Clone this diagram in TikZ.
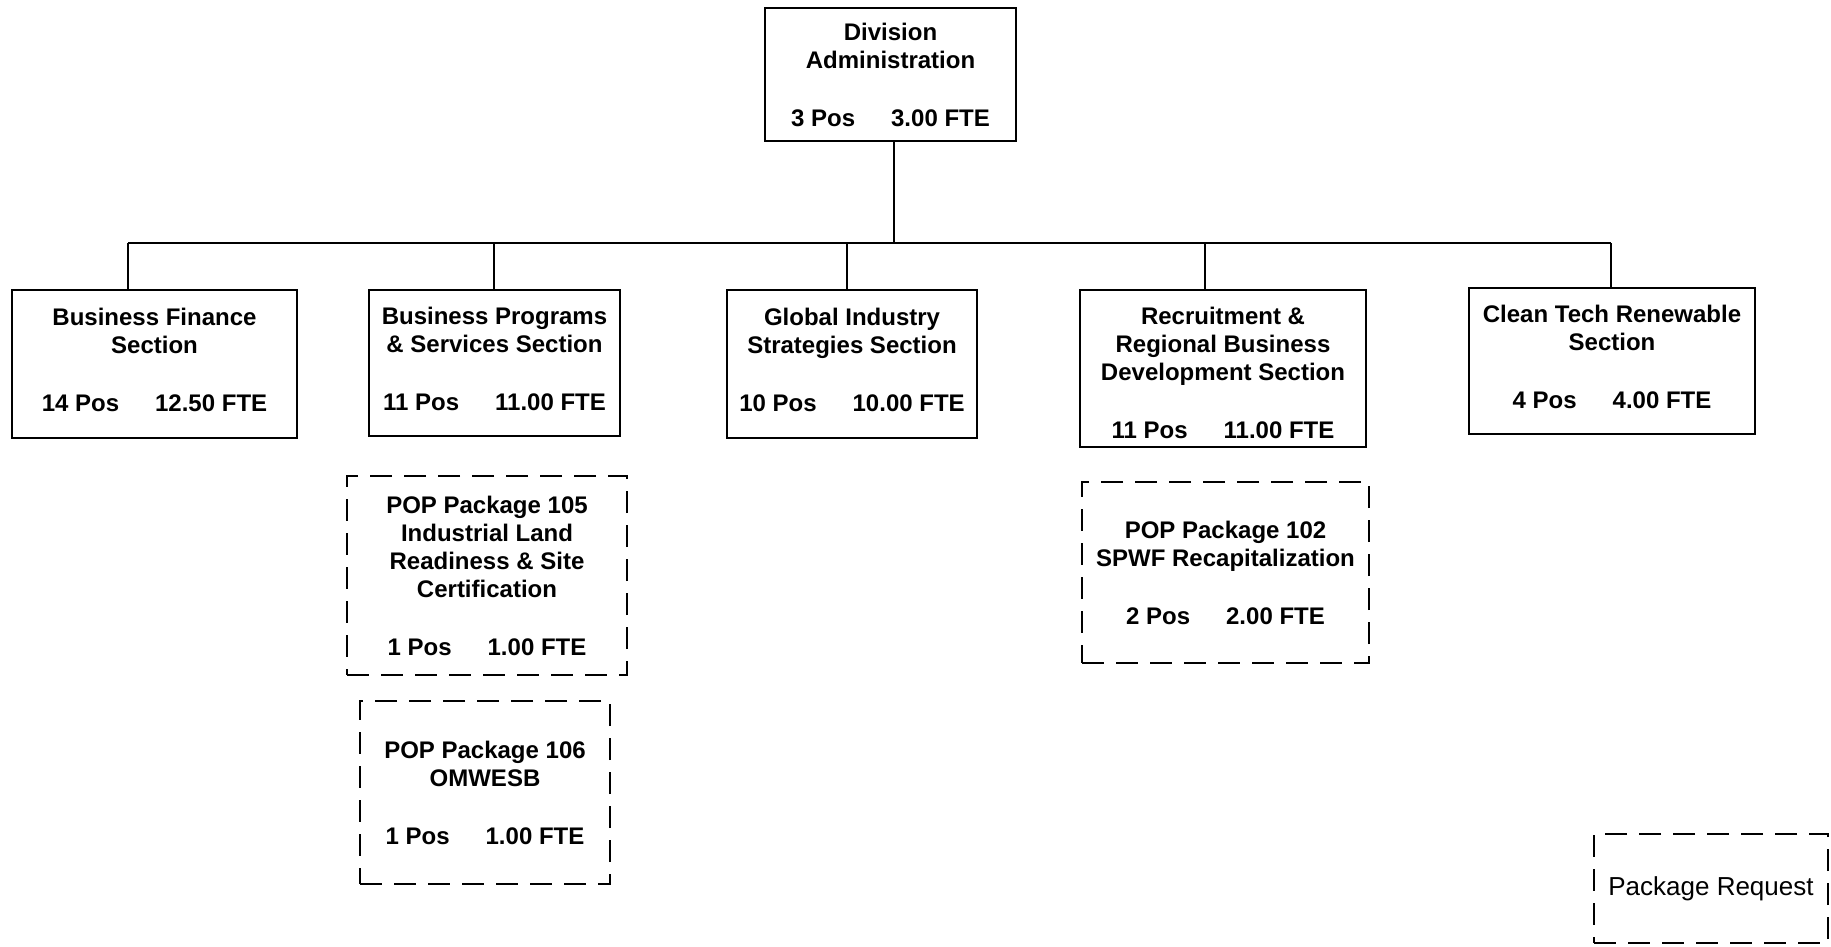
\documentclass[tikz,border=0pt]{standalone}
\usepackage{fontspec}
\setmainfont{Liberation Sans}
\newcommand{\posfte}[2]{#1 Pos\hspace{1.5em}#2 FTE}
\newcommand{\lowdepth}{\rule[-4pt]{0pt}{4pt}}
\tikzset{
  secbox/.style={draw,line width=1pt,align=center,inner sep=0pt,
    font=\fontsize{12}{14}\selectfont\bfseries},
  popbox/.style={secbox,dash pattern=on 11pt off 6pt},
  link/.style={line width=0.8pt}
}
\begin{document}
\begin{tikzpicture}[x=0.5pt,y=-0.5pt]
   \useasboundingbox (0,0) rectangle (1831,947);
   % division head
   \node[secbox,minimum width=125.5pt,minimum height=66.5pt] (div) at (890.5,74.5)
      {Division\\Administration\\[15pt]\posfte{3}{3.00}};
   % sections
   \node[secbox,minimum width=142.5pt,minimum height=74pt] (fin) at (154.5,364)
      {Business Finance\\Section\\[15pt]\posfte{14}{12.50}\lowdepth};
   \node[secbox,minimum width=125.5pt,minimum height=73pt] (prog) at (494.5,363)
      {Business Programs\\\& Services Section\\[15pt]\posfte{11}{11.00}\lowdepth};
   \node[secbox,minimum width=125pt,minimum height=74pt] (glob) at (852,364)
      {Global Industry\\Strategies Section\\[15pt]\posfte{10}{10.00}\lowdepth};
   \node[secbox,minimum width=143pt,minimum height=78.5pt] (recr) at (1223,368.5)
      {\rule{0pt}{13.5pt}Recruitment \&\\Regional Business\\Development Section\\[15pt]\posfte{11}{11.00}};
   \node[secbox,minimum width=143pt,minimum height=73pt] (tech) at (1612,361)
      {Clean Tech Renewable\\Section\\[15pt]\posfte{4}{4.00}\lowdepth};
   % package requests
   \node[popbox,minimum width=140pt,minimum height=99.5pt] (p105) at (487,575.5)
      {POP Package 105\\Industrial Land\\Readiness \& Site\\Certification\\[15pt]\posfte{1}{1.00}};
   \node[popbox,minimum width=125pt,minimum height=91.5pt] (p106) at (485,792.5)
      {POP Package 106\\OMWESB\\[15pt]\posfte{1}{1.00}};
   \node[popbox,minimum width=143.5pt,minimum height=90.5pt] (p102) at (1225.5,572.5)
      {POP Package 102\\SPWF Recapitalization\\[15pt]\posfte{2}{2.00}};
   % legend
   \node[popbox,minimum width=117pt,minimum height=54.5pt,font=\fontsize{13}{15}\selectfont] (req) at (1711,888.5)
      {Package Request};
   % connectors
   \coordinate (bus) at (894,243);
   \coordinate (d1) at (128,243);
   \coordinate (d2) at (494,243);
   \coordinate (d3) at (847,243);
   \coordinate (d4) at (1205,243);
   \coordinate (d5) at (1611,243);
   \draw[link] (div.south -| bus) -- (bus);
   \draw[link] (d1) -- (d5);
   \draw[link] (d1) -- (d1 |- fin.north);
   \draw[link] (d2) -- (d2 |- prog.north);
   \draw[link] (d3) -- (d3 |- glob.north);
   \draw[link] (d4) -- (d4 |- recr.north);
   \draw[link] (d5) -- (d5 |- tech.north);
\end{tikzpicture}
\end{document}
